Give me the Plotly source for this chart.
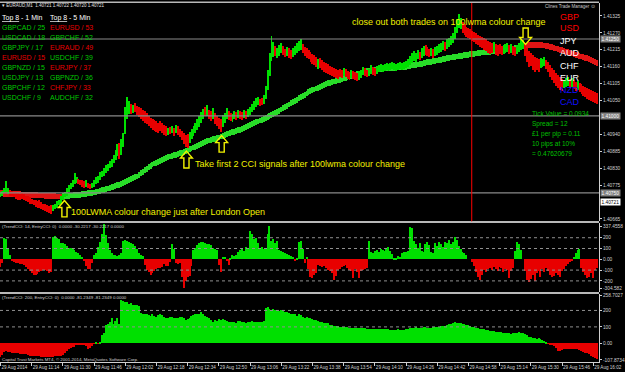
import plotly.graph_objects as go

# ---------------- data ----------------
# one M1 bar per minute, first bar = 29 Aug 10:58
bar_index = list(range(307))

x_tick_pos = [0, 16, 32, 48, 64, 80, 96, 112, 128, 144, 160, 176, 192, 208, 224, 240, 256, 272, 288, 304]
x_tick_text = ["29 Aug 2014", "29 Aug 11:14", "29 Aug 11:30", "29 Aug 11:46", "29 Aug 12:02",
               "29 Aug 12:18", "29 Aug 12:34", "29 Aug 12:50", "29 Aug 13:06", "29 Aug 13:22",
               "29 Aug 13:38", "29 Aug 13:54", "29 Aug 14:10", "29 Aug 14:26", "29 Aug 14:42",
               "29 Aug 14:58", "29 Aug 15:14", "29 Aug 15:30", "29 Aug 15:46", "29 Aug 16:02"]

# candle highs / lows in points above 1.40000 (1 point = 0.00001)
high_pts = [751, 757, 767, 787, 764, 760, 757, 754, 751, 748,
            745, 748, 745, 741, 738, 735, 731, 728, 725, 722,
            725, 719, 715, 712, 709, 706, 709, 709, 715, 722,
            728, 738, 745, 754, 764, 774, 783, 793, 813, 800,
            796, 793, 790, 787, 790, 783, 780, 783, 790, 800,
            806, 816, 822, 829, 839, 845, 852, 861, 874, 890,
            910, 913, 926, 945, 1030, 1062, 1050, 1040, 1036, 1043,
            1033, 1030, 1027, 1020, 1017, 1010, 1001, 994, 991, 987,
            984, 978, 984, 978, 971, 968, 962, 965, 968, 962,
            971, 968, 958, 952, 945, 939, 942, 949, 958, 968,
            978, 991, 1001, 1013, 1023, 1030, 1036, 1020, 1017, 1027,
            1010, 1001, 994, 991, 1004, 1010, 1027, 1017, 1010, 1007,
            1017, 1013, 1020, 1017, 1013, 1020, 1017, 1023, 1030, 1040,
            1049, 1059, 1062, 1056, 1059, 1069, 1098, 1150, 1205, 1260,
            1240, 1228, 1221, 1231, 1238, 1228, 1218, 1224, 1221, 1215,
            1221, 1228, 1238, 1244, 1250, 1234, 1224, 1221, 1215, 1208,
            1202, 1198, 1192, 1185, 1189, 1182, 1176, 1172, 1169, 1163,
            1160, 1156, 1153, 1150, 1153, 1150, 1156, 1153, 1147, 1143,
            1150, 1147, 1143, 1140, 1147, 1150, 1160, 1156, 1150, 1153,
            1166, 1160, 1156, 1163, 1166, 1169, 1166, 1169, 1172, 1169,
            1172, 1176, 1172, 1169, 1172, 1176, 1172, 1176, 1179, 1185,
            1195, 1205, 1211, 1205, 1215, 1208, 1221, 1228, 1231, 1224,
            1218, 1221, 1218, 1224, 1228, 1234, 1238, 1244, 1241, 1250,
            1254, 1260, 1270, 1290, 1315, 1331, 1318, 1305, 1299, 1290,
            1286, 1283, 1276, 1273, 1270, 1263, 1260, 1257, 1254, 1250,
            1244, 1241, 1238, 1241, 1234, 1231, 1234, 1228, 1231, 1234,
            1238, 1231, 1234, 1228, 1224, 1231, 1238, 1250, 1247, 1234,
            1221, 1211, 1205, 1198, 1192, 1189, 1185, 1189, 1185, 1192,
            1182, 1176, 1166, 1156, 1150, 1140, 1133, 1127, 1120, 1117,
            1124, 1127, 1120, 1124, 1117, 1111, 1114, 1107, 1104, 1098,
            1095, 1091, 1088, 1085, 1082, 1078, 1075]
low_pts = [735, 741, 748, 751, 745, 741, 738, 735, 731, 728,
           728, 731, 725, 722, 719, 715, 712, 709, 705, 702,
           699, 696, 693, 690, 686, 683, 680, 690, 696, 702,
           709, 715, 725, 735, 741, 751, 761, 770, 780, 783,
           780, 774, 770, 767, 770, 764, 761, 767, 770, 777,
           783, 790, 800, 806, 813, 822, 829, 835, 848, 858,
           871, 861, 874, 900, 940, 990, 1005, 1007, 1010, 1013,
           1004, 997, 991, 984, 978, 975, 968, 962, 955, 952,
           949, 945, 952, 945, 939, 936, 939, 942, 945, 936,
           945, 939, 933, 923, 910, 900, 897, 913, 926, 936,
           945, 955, 965, 978, 991, 1001, 1001, 991, 984, 991,
           975, 968, 958, 949, 965, 978, 991, 988, 984, 981,
           991, 988, 994, 991, 988, 994, 991, 997, 1004, 1013,
           1020, 1030, 1036, 1033, 1036, 1040, 1056, 1085, 1130, 1180,
           1190, 1195, 1189, 1195, 1205, 1199, 1192, 1195, 1189, 1185,
           1192, 1199, 1205, 1211, 1215, 1205, 1195, 1189, 1185, 1176,
           1169, 1166, 1160, 1153, 1156, 1150, 1143, 1140, 1137, 1133,
           1130, 1127, 1124, 1120, 1127, 1124, 1130, 1127, 1120, 1117,
           1124, 1120, 1117, 1114, 1117, 1124, 1133, 1130, 1127, 1130,
           1137, 1133, 1130, 1137, 1143, 1146, 1143, 1147, 1150, 1146,
           1150, 1153, 1150, 1147, 1150, 1153, 1150, 1153, 1156, 1160,
           1166, 1172, 1179, 1176, 1185, 1182, 1189, 1195, 1199, 1195,
           1192, 1195, 1189, 1195, 1199, 1205, 1208, 1215, 1211, 1218,
           1224, 1231, 1238, 1250, 1270, 1286, 1283, 1270, 1263, 1257,
           1254, 1250, 1244, 1241, 1234, 1231, 1224, 1221, 1215, 1211,
           1205, 1202, 1205, 1208, 1198, 1195, 1202, 1198, 1202, 1205,
           1208, 1202, 1205, 1198, 1195, 1202, 1208, 1215, 1218, 1195,
           1176, 1160, 1163, 1150, 1143, 1150, 1143, 1156, 1160, 1163,
           1153, 1143, 1127, 1117, 1107, 1098, 1091, 1085, 1082, 1091,
           1095, 1098, 1091, 1095, 1088, 1082, 1085, 1078, 1072, 1066,
           1062, 1056, 1053, 1049, 1046, 1043, 1040]
candle_dir = ("GGGGGRRRRR" "RRRRRRRRRR" "RRRRRRRGGG" "GGGGGGGGGG" "RRRRGRRGGG"
              "GGGGGGGGGG" "GRGGGGGRGR" "RRRRRRRRRR" "RRRRRRGRGR" "GRRRRRRGGG"
              "GGGGGRGRRG" "RRRRGGGRRG" "GRGRRGRGGG" "GGGRRGGGGG" "GRGGGRRGRR"
              "GGGGGRRRRR" "RRRGRRRRRR" "RRRRRRGRRR" "GRRRGGGRRG" "GRRGGGGGGG"
              "GGGGGGGGGG" "GGGGGRGGRR" "RGRGGGGGRG" "GGGGGGGRRR" "RRRRRRRRRR"
              "RRRGRRRRGG" "GRGRRGGGGR" "RRRRRRRGGG" "RRRRRRRRRG" "GGRGRRGRRR"
              "RRRRRRR")

# 100 LWMA in points above 1.40000 and its colour state
lwma_pts = [748, 748, 747, 747, 747, 746, 746, 746, 745, 745,
            745, 744, 744, 744, 743, 743, 743, 742, 742, 742,
            741, 741, 741, 740, 740, 740, 739, 739, 739, 738,
            738, 738, 739, 739, 740, 740, 741, 741, 742, 742,
            743, 744, 745, 746, 747, 748, 749, 750, 751, 752,
            754, 756, 758, 760, 762, 764, 766, 768, 770, 772,
            774, 776, 779, 782, 785, 788, 791, 794, 797, 800,
            803, 808, 813, 818, 823, 828, 833, 838, 842, 845,
            848, 851, 854, 857, 860, 863, 866, 868, 870, 872,
            874, 876, 878, 880, 882, 885, 888, 891, 894, 897,
            900, 903, 906, 909, 912, 915, 918, 920, 922, 924,
            926, 928, 930, 933, 936, 939, 941, 943, 945, 947,
            949, 951, 953, 955, 958, 961, 964, 967, 970, 973,
            976, 979, 982, 985, 988, 991, 994, 997, 1000, 1003,
            1006, 1009, 1013, 1017, 1021, 1025, 1029, 1033, 1037, 1041,
            1045, 1049, 1053, 1057, 1061, 1065, 1069, 1073, 1077, 1080,
            1083, 1086, 1089, 1092, 1095, 1098, 1101, 1104, 1106, 1108,
            1110, 1112, 1114, 1116, 1118, 1120, 1122, 1124, 1126, 1128,
            1130, 1132, 1134, 1136, 1138, 1140, 1142, 1144, 1145, 1146,
            1147, 1148, 1149, 1150, 1151, 1152, 1153, 1154, 1155, 1156,
            1156, 1157, 1157, 1158, 1158, 1159, 1159, 1160, 1160, 1161,
            1162, 1164, 1165, 1166, 1167, 1168, 1170, 1171, 1172, 1174,
            1175, 1176, 1178, 1179, 1180, 1182, 1183, 1185, 1186, 1187,
            1189, 1190, 1191, 1192, 1193, 1194, 1195, 1196, 1197, 1198,
            1199, 1200, 1201, 1202, 1203, 1204, 1205, 1206, 1207, 1207,
            1208, 1209, 1210, 1210, 1211, 1212, 1213, 1213, 1214, 1215,
            1216, 1217, 1218, 1219, 1220, 1222, 1224, 1226, 1227, 1228,
            1229, 1230, 1230, 1231, 1231, 1231, 1231, 1230, 1230, 1229,
            1228, 1227, 1225, 1223, 1221, 1219, 1217, 1215, 1213, 1211,
            1209, 1207, 1205, 1203, 1201, 1199, 1197, 1195, 1193, 1191,
            1189, 1187, 1184, 1181, 1178, 1175, 1172]
lwma_dir = "R" * 32 + "G" * 237 + "R" * 38

cci14 = [-70, -30, 200, 190, 100, 40, -10, -20, -30, -35,
         -40, -45, -55, -70, -90, -110, -130, -140, -142, -135,
         -120, -110, -100, -95, -110, -130, -120, 212, 215, 200,
         190, 155, 150, 140, 120, 110, 105, 95, 85, 70,
         55, 40, 20, -10, -60, -90, -85, -30, 40, 60,
         115, 160, 236, 327, 230, 150, 90, 60, 40, 45,
         30, 40, 60, 175, 180, 175, 165, 150, 140, 120,
         100, 60, 40, 30, -50, -100, -120, -140, -130, -110,
         -90, -80, -80, -70, -40, -65, -65, -20, 145, 100,
         -30, -40, -35, -160, -264, -200, -160, -150, -60, 85,
         110, 130, 150, 165, 160, 150, 145, 140, 130, 110,
         100, 90, -50, -112, 25, 20, -10, -50, 10, 40,
         35, 40, 70, 90, 100, 75, 115, 100, 267, 236,
         190, 200, 150, 100, 115, 100, 110, 236, 306, 175,
         190, 150, 170, 90, 80, 70, 60, 50, 40, 30,
         20, -15, 10, 160, 175, 100, -35, 20, -90, -160,
         -170, -140, -130, -50, -60, -70, -60, -80, -100, -110,
         -130, -190, -150, -100, -90, -70, -60, -55, -80, -100,
         -110, -170, -90, -120, -170, -110, -100, -90, -80, 175,
         70, 60, 80, 90, 70, 100, 90, 80, 100, 115,
         80, 50, 15, 10, 30, 20, 60, 65, 70, 80,
         300, 290, 175, 145, 110, 150, 80, 70, 140, 160,
         130, 70, 60, 150, 120, 160, 140, 115, 165, 150,
         180, 140, 160, 212, 180, 120, 100, 70, 60, 40,
         0, 0, -20, -60, -120, -160, -190, -140, -100, -120,
         -90, -80, -100, -70, -90, -110, -70, -80, -120, -90,
         -100, -170, -110, -80, 80, 160, 145, 85, 0, -110,
         -190, -212, -180, -140, -200, -130, -110, -160, -90, -120,
         -80, -110, -140, -160, -150, -130, -140, -160, -110, -90,
         -60, -40, -20, -15, 25, 60, 90, 100, -80, -120,
         -140, -170, -160, -130, -170, -100, -80]

cci200 = [-86, -70, -55, -49, -52, -55, -58, -61, -61, -62,
          -63, -65, -66, -68, -72, -75, -76, -78, -78, -80,
          -80, -82, -83, -84, -86, -85, -84, -82, -80, -78,
          -76, -75, -70, -60, -45, -38, -30, -25, -22, -10,
          -8, -10, -12, -14, -20, -35, -28, -15, -5, 6,
          -4, 4, 47, 60, 110, 118, 130, 150, 118, 135,
          150, 118, 260, 255, 248, 250, 240, 245, 235, 230,
          232, 225, 185, 180, 175, 180, 170, 165, 175, 168,
          160, 170, 175, 170, 160, 150, 155, 160, 158, 150,
          150, 155, 160, 158, 150, 140, 148, 155, 165, 172,
          175, 180, 178, 190, 180, 165, 160, 150, 140, 130,
          140, 135, 145, 140, 145, 140, 135, 130, 128, 128,
          130, 125, 132, 135, 130, 130, 125, 128, 130, 132,
          130, 130, 128, 130, 130, 132, 215, 220, 210, 200,
          205, 200, 200, 198, 200, 195, 192, 190, 185, 180,
          180, 175, 165, 175, 170, 160, 155, 160, 155, 150,
          145, 140, 138, 135, 130, 128, 125, 122, 120, 110,
          108, 105, 105, 102, 100, 100, 98, 98, 96, 95,
          95, 93, 92, 90, 90, 92, 95, 90, 88, 88,
          86, 86, 85, 85, 86, 85, 84, 84, 85, 84,
          83, 82, 82, 83, 84, 82, 80, 82, 84, 86,
          92, 95, 93, 96, 95, 92, 90, 96, 98, 95,
          92, 95, 96, 98, 100, 100, 102, 104, 106, 108,
          115, 118, 125, 128, 122, 124, 120, 118, 115, 112,
          108, 104, 100, 96, 92, 90, 88, 85, 84, 80,
          78, 76, 74, 72, 70, 68, 70, 66, 64, 62,
          62, 60, 58, 60, 62, 64, 68, 64, 60, 55,
          48, 40, 37, 32, 30, 28, 32, 26, 22, 16,
          4, -2, -6, -8, -20, -30, -45, -50, -42, -38,
          -36, -35, -34, -33, -35, -36, -38, -42, -48, -52,
          -58, -62, -68, -75, -82, -90, -96]

price_ticks = [1.40665, 1.40775, 1.40830, 1.40885, 1.40940, 1.41050,
               1.41105, 1.41160, 1.41215, 1.41270, 1.41325]
marked_levels = [1.41250, 1.41000, 1.40750]
bid_price = 1.40721
red_vline_bar = 241.7

cci14_tick_pos = [305, 200, 100, 0, -100, -200, -268]
cci14_tick_text = ["337.4558", "200", "100", "0.00", "-100", "-200", "-304.582"]
cci200_tick_pos = [292, 200, 100, 0, -101]
cci200_tick_text = ["258.7027", "200", "100", "0.00", "-107.8734"]

top8_1min = ["GBPCAD / 25", "USDCAD / 18", "GBPJPY / 17", "EURUSD / 15",
             "GBPNZD / 15", "USDJPY / 13", "GBPCHF / 12", "USDCHF / 9"]
top8_1min_dir = "GGGRGGGG"
top8_5min = ["EURUSD / 53", "GBPCHF / 52", "EURAUD / 49", "USDCHF / 39",
             "EURJPY / 37", "GBPNZD / 36", "CHFJPY / 33", "AUDCHF / 32"]
top8_5min_dir = "RGRGRGRG"
strength_ccy = ["GBP", "USD", "JPY", "AUD", "CHF", "EUR", "NZD", "CAD"]
strength_col = ["#ff0000", "#ff0000", "#ffffff", "#ffffff", "#ffffff", "#ffffff", "#1010ff", "#1010ff"]
tick_info = ["Tick Value = 0.0934", "Spread = 12", "£1 per pip = 0.11",
             "10 pips at 10%", "= 0.47620679"]

n = len(bar_index)
for arr in (high_pts, low_pts, lwma_pts, cci14, cci200, candle_dir, lwma_dir):
    assert len(arr) == n, len(arr)


def to_price(p):
    return round(1.4 + p / 100000.0, 5)


high = [to_price(v) for v in high_pts]
low = [to_price(v) for v in low_pts]
lwma = [to_price(v) for v in lwma_pts]

# ---------------- styling ----------------
GREEN = "#00e000"
RED = "#e80000"
BAND_G = "#28dc28"
BAND_R = "#e01414"
AX = "#d0d0d0"
YEL = "#f2f200"
FONT = "Liberation Sans"
XR = [-0.25, 306.97]
PW, PH = 604.0, 362.0
BW = 0.6


def px(x):
    return x / PW


def py(y):
    return 1 - y / PH


fig = go.Figure()
band = 0.00019
fig.add_trace(go.Bar(x=bar_index, y=[band] * n, base=[v - band / 2 for v in lwma], width=BW,
                     marker=dict(color=[BAND_G if c == "G" else BAND_R for c in lwma_dir], line_width=0),
                     xaxis="x", yaxis="y", hoverinfo="skip"))
fig.add_trace(go.Bar(x=bar_index, y=[h - l for h, l in zip(high, low)], base=low, width=0.5,
                     marker=dict(color=[GREEN if c == "G" else RED for c in candle_dir], line_width=0),
                     xaxis="x", yaxis="y", hoverinfo="skip"))
fig.add_trace(go.Bar(x=bar_index, y=cci14, width=BW,
                     marker=dict(color=[GREEN if v >= 0 else RED for v in cci14], line_width=0),
                     xaxis="x2", yaxis="y2", hoverinfo="skip"))
fig.add_trace(go.Bar(x=bar_index, y=cci200, width=BW,
                     marker=dict(color=[GREEN if v >= 0 else RED for v in cci200], line_width=0),
                     xaxis="x3", yaxis="y3", hoverinfo="skip"))

common_x = dict(range=XR, showgrid=False, zeroline=False, domain=[0, 1])
common_y = dict(side="right", showgrid=False, zeroline=False, ticks="outside", ticklen=2,
                tickcolor=AX, tickwidth=1, showline=True, linecolor=AX, linewidth=1,
                tickfont=dict(size=4.8, color=AX, family=FONT))

fig.update_layout(
    width=625, height=372, margin=dict(l=0, r=21, t=0, b=10),
    paper_bgcolor="black", plot_bgcolor="black",
    barmode="overlay", bargap=0, showlegend=False,
    font=dict(family=FONT, color=AX, size=5),
    xaxis=dict(anchor="y", showticklabels=False, ticks="", **common_x),
    xaxis2=dict(anchor="y2", matches="x", showticklabels=False, ticks="", **common_x),
    xaxis3=dict(anchor="y3", matches="x", tickvals=x_tick_pos, ticktext=x_tick_text,
                ticks="outside", ticklen=3, tickcolor=AX, tickwidth=1,
                ticklabelposition="outside right", tickangle=0,
                tickfont=dict(size=4.6, color=AX, family=FONT),
                showline=True, linecolor=AX, linewidth=1, **common_x),
    yaxis=dict(anchor="x", domain=[py(221), py(2)], range=[1.40657, 1.41367],
               tickvals=price_ticks, ticktext=[f"{v:.5f}" for v in price_ticks], **common_y),
    yaxis2=dict(anchor="x2", domain=[py(292), py(222.5)], range=[-304.58, 337.46],
                tickvals=cci14_tick_pos, ticktext=cci14_tick_text, **common_y),
    yaxis3=dict(anchor="x3", domain=[py(362), py(294)], range=[-113.3, 298.8],
                tickvals=cci200_tick_pos, ticktext=cci200_tick_text, **common_y),
)

shapes = []
# panel separators / top border
for yy, w in [(1.2, 1.5), (221.6, 2), (292.9, 2)]:
    shapes.append(dict(type="line", xref="paper", yref="paper", x0=0, x1=1, y0=py(yy), y1=py(yy),
                       line=dict(color="#b8b8b8", width=w)))
# horizontal price levels
for lv in marked_levels:
    shapes.append(dict(type="line", xref="paper", yref="y", x0=0, x1=1, y0=lv, y1=lv,
                       line=dict(color="#8a8a8a", width=1.2)))
# red vertical line
shapes.append(dict(type="line", xref="x", yref="y domain", x0=red_vline_bar, x1=red_vline_bar, y0=0, y1=1,
                   line=dict(color="#ff0000", width=1)))
# CCI dotted levels
for lv in [200, 100, -100, -200]:
    shapes.append(dict(type="line", xref="paper", yref="y2", x0=0, x1=1, y0=lv, y1=lv,
                       line=dict(color="#909090", width=1, dash="dot")))
for lv in [200, 100]:
    shapes.append(dict(type="line", xref="paper", yref="y3", x0=0, x1=1, y0=lv, y1=lv,
                       line=dict(color="#909090", width=1, dash="dot")))


def arrow_path(cx, tip, tail, hw=6.0, sw=2.6, hh=7.0):
    d = 1 if tail > tip else -1
    p = [(cx, tip), (cx + hw, tip + d * hh), (cx + sw, tip + d * hh), (cx + sw, tail),
         (cx - sw, tail), (cx - sw, tip + d * hh), (cx - hw, tip + d * hh)]
    return "M " + " L ".join(f"{px(a):.5f},{py(b):.5f}" for a, b in p) + " Z"


for cx, tip, tail in [(65, 200, 216.5), (188, 150.5, 167.5), (223.5, 135, 151.5), (530, 43.5, 27)]:
    shapes.append(dict(type="path", xref="paper", yref="paper", path=arrow_path(cx, tip, tail),
                       line=dict(color=YEL, width=1.4)))
fig.update_layout(shapes=shapes)

ann = []


def text(x, y, s, size, color, family=FONT):
    ann.append(dict(x=px(x), y=py(y), xref="paper", yref="paper", text=s, showarrow=False,
                    xanchor="left", yanchor="middle", font=dict(size=size, color=color, family=family),
                    borderpad=0))


text(1, 5, "▾ EURAUD,M1  1.40721 1.40722 1.40720 1.40721", 4.5, "#e0e0e0")
text(1, 17.3, "<u>Top 8</u> - 1 Min", 7, "#ffffff")
text(49.5, 17.3, "<u>Top 8</u> - 5 Min", 7, "#ffffff")
for k in range(8):
    yy = 26.7 + 10 * k
    text(1, yy, top8_1min[k], 7, "#00c800" if top8_1min_dir[k] == "G" else "#e80000")
    text(49.5, yy, top8_5min[k], 7, "#00c800" if top8_5min_dir[k] == "G" else "#e80000")
for k, (c, col) in enumerate(zip(strength_ccy, strength_col)):
    text(564, [15.7, 27.2, 40, 52.3, 65, 77.3, 89.3, 101][k], c, 9, col)
text(549, 6, "Clines Trade Manager ⊙", 4.5, "#c8c8c8")
for k, s in enumerate(tick_info):
    text(535.5, [113.3, 123.3, 133, 143, 152.7][k], s, 6.5, "#00c000")
text(354, 21, "close out both trades on 100lwma colour change", 9, YEL)
text(196, 163.5, "Take first 2 CCI signals after 100lwma colour change", 9, YEL)
text(71, 212, "100LWMA colour change just after London Open", 9, YEL)
text(1, 226, "(TrendCCI: 14, EntryCCI: 0)  0.0000 -30.2217 -30.2217 0.0000", 4.4, "#d0d0d0")
text(1, 297.5, "(TrendCCI: 200, EntryCCI: 0)  0.0000 -81.2349 -81.2349 0.0000", 4.4, "#d0d0d0")
text(1, 359, "Capital Trust Markets MT4, © 2001-2014, MetaQuotes Software Corp.", 4.4, "#d0d0d0")

for lv in marked_levels:
    ann.append(dict(x=px(605), y=lv, xref="paper", yref="y", text=f"{lv:.5f}", showarrow=False,
                    xanchor="left", yanchor="middle", bgcolor="#808080", borderpad=0.5,
                    font=dict(size=4.8, color="#ffffff", family=FONT)))
ann.append(dict(x=px(605), y=bid_price, xref="paper", yref="y", text=f"{bid_price:.5f}", showarrow=False,
                xanchor="left", yanchor="middle", bgcolor="#ffffff", borderpad=0.5,
                font=dict(size=4.8, color="#000000", family=FONT)))
fig.update_layout(annotations=ann)

fig.write_html("out.html", config={"displayModeBar": False})
